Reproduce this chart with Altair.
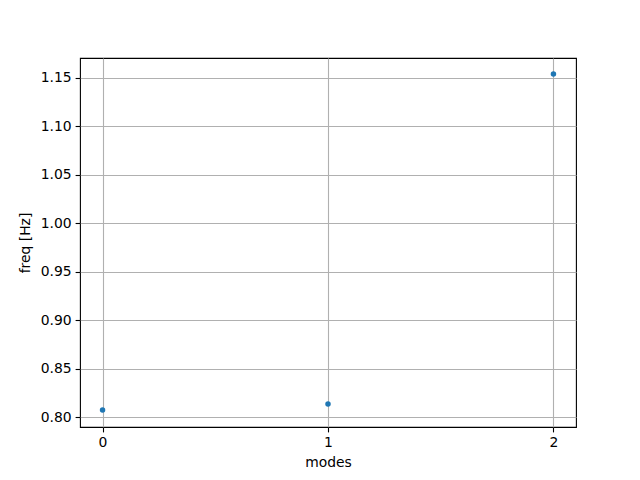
import altair as alt
import pandas as pd

modes = [0, 1, 2]
freqs = [0.8072, 0.8134, 1.1541]
y_ticks = [0.80, 0.85, 0.90, 0.95, 1.00, 1.05, 1.10, 1.15]
x_ticks = [0, 1, 2]

df = pd.DataFrame({"modes": modes, "freq": freqs})

FONT = "DejaVu Sans"
common = dict(grid=True, gridColor="#b0b0b0", gridWidth=1.1,
              domain=False, tickColor="black", tickSize=4.9, tickWidth=1.1,
              labelPadding=4, labelFont=FONT, labelFontSize=13.9,
              labelColor="black", titleFont=FONT, titleFontSize=13.9,
              titleFontWeight="normal", titleColor="black")

chart = alt.Chart(df).mark_point(
    filled=True, size=30, color="#1f77b4", opacity=1
).encode(
    x=alt.X("modes:Q",
            scale=alt.Scale(domain=[-0.1, 2.1], nice=False, zero=False),
            axis=alt.Axis(values=x_ticks, format="d", title="modes",
                          titlePadding=6, **common)),
    y=alt.Y("freq:Q",
            scale=alt.Scale(domain=[0.7897, 1.1706], nice=False, zero=False),
            axis=alt.Axis(values=y_ticks, format=".2f", title="freq [Hz]",
                          titlePadding=8, **common)),
).properties(
    width=496, height=369,
    autosize=alt.AutoSizeParams(type="none"),
    padding={"left": 72, "top": 50, "right": 48, "bottom": 45},
).configure(
    background="white",
    view=alt.ViewConfig(stroke="black", strokeWidth=1.1),
)

chart.save("out.html", embed_options={"renderer": "svg", "actions": False})
